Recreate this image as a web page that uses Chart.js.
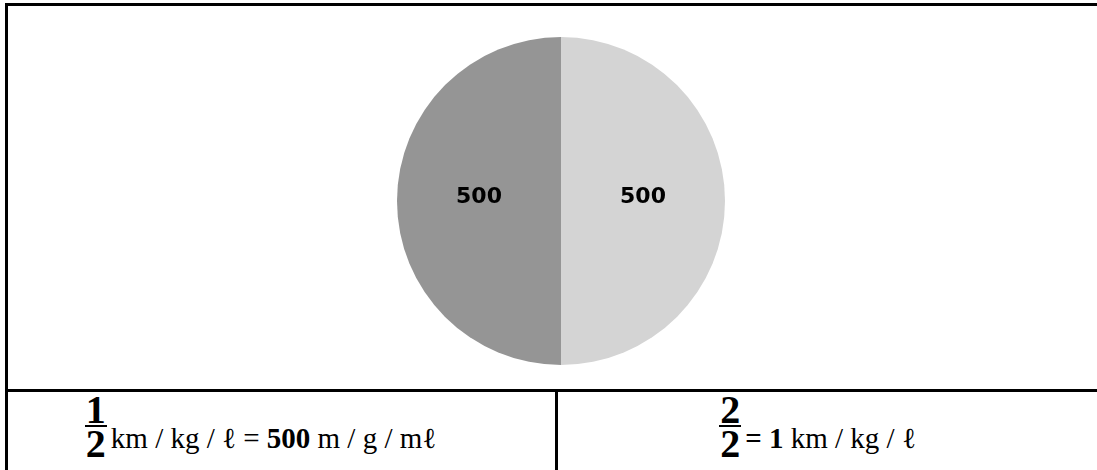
<!DOCTYPE html>
<html>
<head>
<meta charset="utf-8">
<script src="https://cdn.jsdelivr.net/npm/chart.js@4.4.1/dist/chart.umd.min.js"></script>
<style>
  html, body { margin: 0; padding: 0; background: #fff; overflow: hidden; width: 1097px; height: 470px; }
  .frame { position: absolute; left: 5px; top: 3px; width: 1112px; height: 520px; border-top: 3px solid #000; border-left: 3px solid #000; box-sizing: border-box; }
  .hline { position: absolute; left: 5px; top: 389px; width: 1112px; height: 3px; background: #000; }
  .vline { position: absolute; left: 555px; top: 389px; width: 3px; height: 100px; background: #000; }
  #pieBox { position: absolute; left: 397px; top: 37px; width: 328px; height: 328px; }
  .cell { position: absolute; top: 392px; height: 78px; box-sizing: border-box; text-align: center;
          font-family: "Liberation Serif", "Times New Roman", serif; font-size: 29px; color: #000;
          padding-top: 3px; white-space: nowrap; }
  .cell.left { left: 8px; width: 547px; padding-right: 42px; }
  .cell.right { left: 558px; width: 559px; padding-right: 40px; }
  .frac { display: inline-block; vertical-align: -9px; text-align: center; font-weight: bold; font-size: 40px; line-height: 30px; margin-right: 4px; }
  .frac .num { display: block; border-bottom: 2px solid #000; padding: 0 1px; }
  .frac .den { display: block; padding-top: 2px; }
  b { font-weight: bold; }
</style>
</head>
<body>
  <div class="frame"></div>
  <div id="pieBox"><canvas id="chartPie"></canvas></div>
  <div class="hline"></div>
  <div class="vline"></div>
  <div class="cell left"><span class="frac"><span class="num">1</span><span class="den">2</span></span>km / kg / ℓ = <b>500</b> m / g / mℓ</div>
  <div class="cell right"><span class="frac"><span class="num">2</span><span class="den">2</span></span><b>= 1</b> km / kg / ℓ</div>

<script>
(() => {
  // Datos: dos mitades iguales
  const categorias = ["Mitad 1", "Mitad 2"];
  const valores = [500, 500];
  const colores = ["#d4d4d4", "#959595"];

  // etiquetas dentro de cada porción (sin plugin externo)
  const etiquetasPlugin = {
    id: "etiquetas",
    afterDatasetsDraw(chart) {
      const ctx = chart.ctx;
      const meta = chart.getDatasetMeta(0);
      ctx.save();
      ctx.font = "bold 22px 'DejaVu Sans', sans-serif";
      ctx.fillStyle = "#000";
      ctx.textAlign = "center";
      ctx.textBaseline = "middle";
      meta.data.forEach((arc, i) => {
        const p = arc.tooltipPosition();
        ctx.fillText(String(chart.data.datasets[0].data[i]), p.x, p.y - 4);
      });
      ctx.restore();
    }
  };

  new Chart(document.getElementById("chartPie"), {
    type: "pie",
    data: {
      labels: categorias,
      datasets: [{
        data: valores,
        backgroundColor: colores,
        borderWidth: 0
      }]
    },
    options: {
      responsive: true,
      maintainAspectRatio: false,
      animation: false,
      layout: { padding: 0 },
      plugins: {
        legend: { display: false },
        tooltip: { enabled: false }
      }
    },
    plugins: [etiquetasPlugin]
  });
})();
</script>
</body>
</html>
